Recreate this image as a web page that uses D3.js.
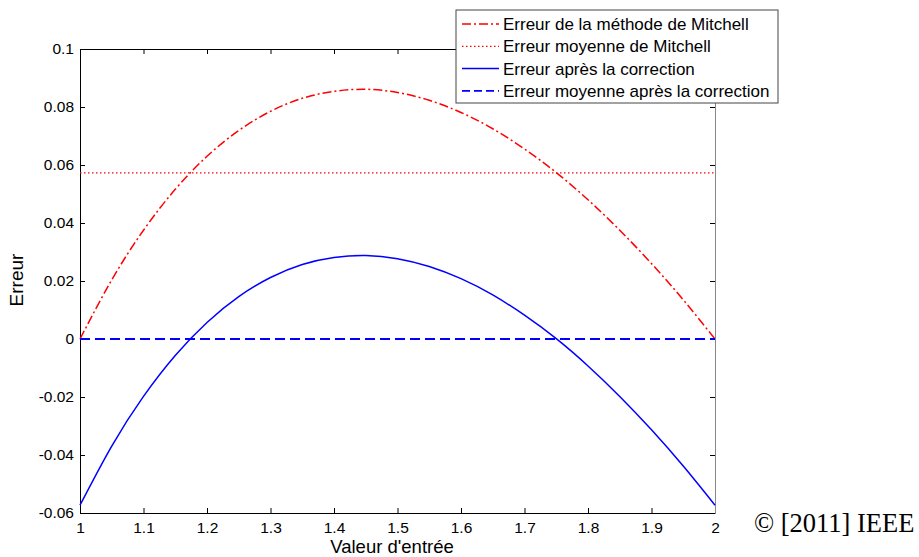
<!DOCTYPE html>
<head>
  <meta charset="utf-8">
  <script src="https://d3js.org/d3.v7.min.js"></script>
  <style>
    body { margin:0; background:#fff; }
    text { font-family: "Liberation Sans", Arial, sans-serif; fill:#000; }
  </style>
</head>
<body>
<script>
    // values
    var xVals = [1, 1.05, 1.1, 1.15, 1.2, 1.25, 1.3, 1.35, 1.4, 1.45, 1.5,
                 1.55, 1.6, 1.65, 1.7, 1.75, 1.8, 1.85, 1.9, 1.95, 2];
    var mitchell = [0, 0.0204, 0.0375, 0.0516, 0.0630, 0.0719, 0.0785, 0.0830, 0.0854, 0.0861, 0.0850,
                    0.0823, 0.0781, 0.0725, 0.0655, 0.0574, 0.0480, 0.0375, 0.0260, 0.0135, 0];
    var corrected = [-0.0573, -0.0369, -0.0198, -0.0057, 0.0057, 0.0146, 0.0212, 0.0257, 0.0281, 0.0288, 0.0277,
                     0.0250, 0.0208, 0.0152, 0.0082, 0.0001, -0.0093, -0.0198, -0.0313, -0.0438, -0.0573];
    var meanMitchell = 0.0573;
    var meanCorrected = 0;
    var xTicks = [1, 1.1, 1.2, 1.3, 1.4, 1.5, 1.6, 1.7, 1.8, 1.9, 2];
    var yTicks = [-0.06, -0.04, -0.02, 0, 0.02, 0.04, 0.06, 0.08, 0.1];
    var legendLabels = ["Erreur de la méthode de Mitchell", "Erreur moyenne de Mitchell",
                        "Erreur après la correction", "Erreur moyenne après la correction"];

    var margin = {top: 49, right: 204, bottom: 44, left: 80},
        width = 919 - margin.left - margin.right,
        height = 557 - margin.top - margin.bottom;

    var svg = d3.select("body").append("svg")
        .attr("width", 919)
        .attr("height", 557);

    var g = svg.append("g")
        .attr("transform", "translate(" + margin.left + "," + margin.top + ")");

    var x = d3.scaleLinear().domain([1, 2]).range([0, width]);
    var y = d3.scaleLinear().domain([-0.06, 0.1]).range([height, 0]);

    var pts = function(arr) { return xVals.map(function(v, i) { return [v, arr[i]]; }); };

    var line = d3.line()
        .x(function(d) { return x(d[0]); })
        .y(function(d) { return y(d[1]); })
        .curve(d3.curveNatural);

    // plain hyphen for negatives, like matlab
    var fmt = function(p) { return function(d) { return String(+d.toFixed(p)); }; };

    // box + ticks (inward, mirrored like matlab)
    var tk = 5;
    var axB = g.append("g").attr("transform", "translate(0," + height + ")")
        .call(d3.axisBottom(x).tickValues(xTicks).tickSizeInner(-tk).tickSizeOuter(0).tickPadding(9)
          .tickFormat(fmt(1)));
    var axL = g.append("g")
        .call(d3.axisLeft(y).tickValues(yTicks).tickSizeInner(-tk).tickSizeOuter(0).tickPadding(6)
          .tickFormat(fmt(2)));
    var axT = g.append("g")
        .call(d3.axisTop(x).tickValues(xTicks).tickSizeInner(-tk).tickSizeOuter(0).tickFormat(""));
    var axR = g.append("g").attr("transform", "translate(" + width + ",0)")
        .call(d3.axisRight(y).tickValues(yTicks).tickSizeInner(-tk).tickSizeOuter(0).tickFormat(""));
    axR.select(".domain").attr("stroke", "#888");
    [axB, axL, axT, axR].forEach(function(a) {
      a.selectAll("text").style("font-size", "15.5px");
      a.attr("font-family", null);
    });

    // series
    g.append("path").datum(pts(mitchell))
        .attr("d", line).attr("fill", "none").attr("stroke", "#ff0000")
        .attr("stroke-width", 1.5).attr("stroke-dasharray", "9,3,2,3");
    g.append("line")
        .attr("x1", x(1)).attr("x2", x(2)).attr("y1", y(meanMitchell)).attr("y2", y(meanMitchell))
        .attr("stroke", "#ff0000").attr("stroke-width", 1.3).attr("stroke-dasharray", "1.5,2.5");
    g.append("path").datum(pts(corrected))
        .attr("d", line).attr("fill", "none").attr("stroke", "#0000ff").attr("stroke-width", 1.5);
    g.append("line")
        .attr("x1", x(1)).attr("x2", x(2)).attr("y1", y(meanCorrected)).attr("y2", y(meanCorrected))
        .attr("stroke", "#0000ff").attr("stroke-width", 1.8).attr("stroke-dasharray", "10,5");

    // axis labels
    svg.append("text")
        .attr("x", 392).attr("y", 553)
        .attr("text-anchor", "middle").style("font-size", "18.5px")
        .text("Valeur d'entrée");
    svg.append("text")
        .attr("transform", "translate(23,280) rotate(-90)")
        .attr("text-anchor", "middle").style("font-size", "19px")
        .text("Erreur");

    // legend
    var lg = svg.append("g").attr("transform", "translate(456,10)");
    lg.append("rect").attr("width", 322).attr("height", 93)
        .attr("fill", "#fff").attr("stroke", "#444").attr("stroke-width", 1);
    var styles = [
      {c: "#ff0000", d: "9,3,2,3", w: 1.5},
      {c: "#ff0000", d: "1.5,2.5", w: 1.3},
      {c: "#0000ff", d: null, w: 1.5},
      {c: "#0000ff", d: "8,4", w: 1.8}
    ];
    legendLabels.forEach(function(t, i) {
      var yy = 14 + i * 22.3;
      lg.append("line").attr("x1", 6).attr("x2", 43).attr("y1", yy).attr("y2", yy)
        .attr("stroke", styles[i].c).attr("stroke-width", styles[i].w)
        .attr("stroke-dasharray", styles[i].d);
      lg.append("text").attr("x", 47).attr("y", yy + 6)
        .style("font-size", "17px").text(t);
    });

    // copyright
    svg.append("text")
        .attr("x", 754).attr("y", 532)
        .style("font-family", "'Liberation Serif', 'Times New Roman', serif")
        .style("font-size", "26.5px")
        .text("© [2011] IEEE");
</script>
</body>
